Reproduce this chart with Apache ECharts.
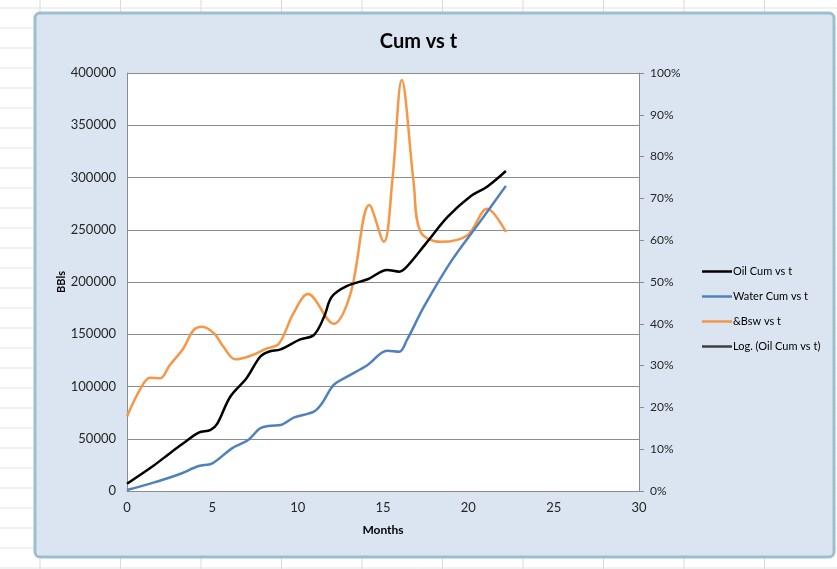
<!DOCTYPE html>
<html>
<head>
<meta charset="utf-8">
<title>Cum vs t</title>
<script src="https://cdn.jsdelivr.net/npm/echarts@6/dist/echarts.min.js"></script>
<style>
  html, body { margin: 0; padding: 0; background: #fff; }
  #chart { width: 837px; height: 569px; }
</style>
</head>
<body>
<div id="chart"></div>
<script>
// values (months on x)
var oilMonths = [0, 1.55, 2.5, 3.3, 4.2, 4.9, 5.3, 6.05, 7.0, 7.8, 8.3, 9.0, 10.15, 10.95, 11.55, 12.0, 12.9, 14.1, 15.25, 15.95, 16.4, 17.6, 18.8, 20.15, 21.1, 22.2];
var oilCum = [7000, 24200, 36000, 45600, 55800, 58400, 64800, 90200, 107800, 128500, 133300, 135600, 145100, 149300, 166800, 185900, 196200, 202600, 211500, 209900, 214700, 238600, 262500, 282300, 291200, 306200];

var waterMonths = [0, 1.55, 3.1, 4.2, 5.0, 6.15, 7.1, 7.8, 8.4, 9.0, 9.8, 10.95, 11.45, 12.1, 12.9, 14.1, 15.25, 15.95, 16.4, 17.4, 19.0, 20.7, 22.2];
var waterCum = [1000, 8000, 16300, 23900, 26500, 40800, 48800, 60000, 62500, 63200, 70500, 75900, 84500, 101400, 109400, 120600, 134300, 133300, 144500, 176400, 220000, 258000, 292000];

var bswMonths = [0, 0.75, 1.35, 1.95, 2.5, 3.3, 3.9, 4.4, 5.1, 5.65, 6.35, 7.2, 8.2, 8.9, 9.75, 10.6, 12.1, 13.1, 14.2, 15.05, 15.55, 16.1, 16.8, 17.2, 18.4, 19.95, 21.1, 22.2];
var bswPct = [17.8, 24.2, 27.1, 27.0, 30.1, 34.1, 38.5, 39.3, 37.7, 34.5, 31.5, 32.3, 34.1, 35.2, 42.5, 47.1, 40.0, 47.3, 68.4, 59.6, 74.4, 98.3, 73.6, 62.0, 59.6, 61.2, 67.5, 62.0];

var seriesNames = ['Oil Cum vs t', 'Water Cum vs t', '&Bsw vs t', 'Log. (Oil Cum vs t)'];

function pairs(xs, ys) {
  return xs.map(function (x, i) { return [x, ys[i]]; });
}

var font = 'Lato, "Open Sans", sans-serif';
var txt = '#262626';
var gridGray = '#8c8c8c';

// spreadsheet gridlines around the chart object
var sheet = [];
for (var gx = 40; gx < 837; gx += 80.5) {
  sheet.push({ type: 'line', z: -20, shape: { x1: gx, y1: 0, x2: gx, y2: 569 }, style: { stroke: '#d9d9d9', lineWidth: 1 } });
}
for (var gy = 8; gy < 569; gy += 20) {
  sheet.push({ type: 'line', z: -20, shape: { x1: 0, y1: gy, x2: 837, y2: gy }, style: { stroke: '#e3e3e3', lineWidth: 1 } });
}
sheet.push({
  type: 'rect', z: -10,
  shape: { x: 35, y: 13, width: 799, height: 544, r: 5 },
  style: { fill: '#dbe5f1', stroke: '#9cbfcf', lineWidth: 3 }
});

var myChart = echarts.init(document.getElementById('chart'));
var option = {
  backgroundColor: '#fff',
  animation: false,
  graphic: sheet,
  title: {
    text: 'Cum vs t',
    left: 'center',
    top: 27,
    textStyle: { fontFamily: font, fontSize: 20, fontWeight: 'bold', color: '#000' }
  },
  legend: {
    orient: 'vertical',
    left: 697,
    top: 261,
    icon: 'rect',
    itemWidth: 30,
    itemHeight: 2.5,
    itemGap: 14,
    data: seriesNames,
    textStyle: { fontFamily: font, fontSize: 11, color: '#000', padding: [0, 0, 0, -4] }
  },
  grid: {
    left: 127, right: 198, top: 73, bottom: 78,
    show: true, backgroundColor: '#fff', borderWidth: 0
  },
  xAxis: {
    type: 'value',
    min: 0, max: 30, interval: 5,
    name: 'Months',
    nameLocation: 'middle',
    nameGap: 33,
    nameTextStyle: { fontFamily: font, fontSize: 12, fontWeight: 'bold', color: '#000' },
    axisLine: { lineStyle: { color: gridGray } },
    axisTick: { show: false },
    axisLabel: { fontFamily: font, fontSize: 13, color: txt, margin: 10 },
    splitLine: { show: false }
  },
  yAxis: [
    {
      type: 'value',
      min: 0, max: 400000, interval: 50000,
      name: 'BBls',
      nameLocation: 'middle',
      nameGap: 60,
      nameMoveOverlap: false,
      nameTextStyle: { fontFamily: font, fontSize: 11, fontWeight: 'bold', color: '#000' },
      axisLine: { show: true, lineStyle: { color: gridGray } },
      axisTick: { show: false },
      axisLabel: {
        fontFamily: font, fontSize: 13, color: txt, margin: 11,
        formatter: function (v) { return String(v); }
      },
      splitLine: { show: true, lineStyle: { color: gridGray, width: 1 } }
    },
    {
      type: 'value',
      position: 'right',
      min: 0, max: 100, interval: 10,
      axisLine: { show: true, lineStyle: { color: gridGray } },
      axisTick: { show: true, inside: false, length: 5, lineStyle: { color: gridGray } },
      axisLabel: { fontFamily: font, fontSize: 12, color: txt, margin: 11, formatter: '{value}%' },
      splitLine: { show: false }
    }
  ],
  series: [
    {
      name: seriesNames[0],
      type: 'line',
      data: pairs(oilMonths, oilCum),
      smooth: 0.35,
      symbol: 'none',
      z: 4,
      lineStyle: { color: '#000000', width: 2.5 },
      itemStyle: { color: '#000000' }
    },
    {
      name: seriesNames[1],
      type: 'line',
      data: pairs(waterMonths, waterCum),
      smooth: 0.35,
      symbol: 'none',
      z: 3,
      lineStyle: { color: '#4f81bd', width: 2.5 },
      itemStyle: { color: '#4f81bd' }
    },
    {
      name: seriesNames[2],
      type: 'line',
      yAxisIndex: 1,
      data: pairs(bswMonths, bswPct),
      smooth: 0.35,
      symbol: 'none',
      z: 2,
      lineStyle: { color: '#f79646', width: 2.5 },
      itemStyle: { color: '#f79646' }
    },
    {
      name: seriesNames[3],
      type: 'line',
      data: [],
      symbol: 'none',
      lineStyle: { color: '#404040', width: 1.5 },
      itemStyle: { color: '#404040' }
    }
  ]
};
myChart.setOption(option);
window.addEventListener('resize', function () {
  myChart.resize();
});
</script>
</body>
</html>
